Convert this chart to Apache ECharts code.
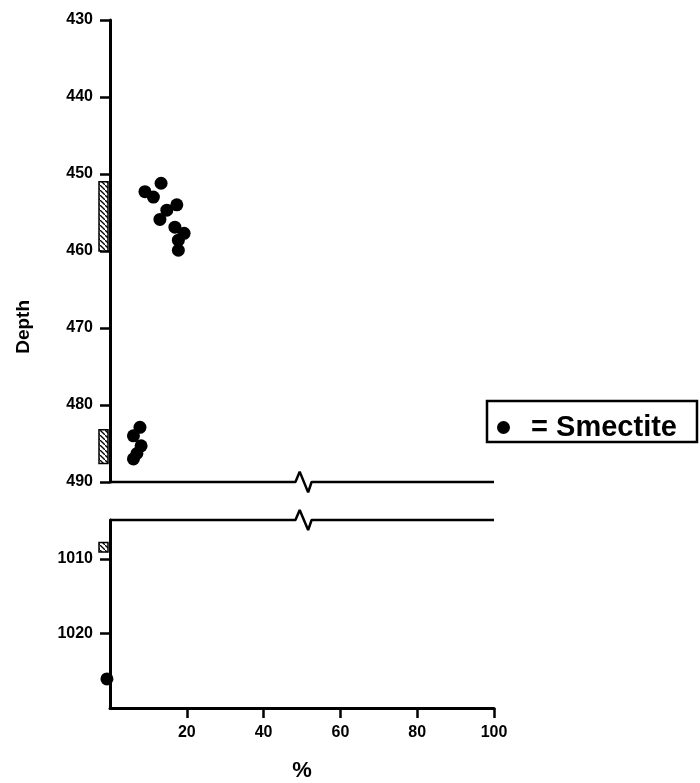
<!DOCTYPE html>
<html>
<head>
<meta charset="utf-8">
<script src="https://cdn.jsdelivr.net/npm/echarts@6/dist/echarts.min.js"></script>
<style>
  html, body { margin: 0; padding: 0; background: #fff; }
  #chart { width: 700px; height: 783px; }
</style>
</head>
<body>
<div id="chart"></div>
<script>
// data
var smectiteUpper = [13.3, 9.1, 11.3, 17.4, 14.8, 13.0, 16.9, 19.3, 17.8, 17.8, 7.8, 6.1, 8.1, 7.0, 6.1];
var depthUpper = [451.2, 452.3, 453.0, 454.0, 454.7, 455.9, 456.9, 457.7, 458.6, 459.9, 482.9, 484.0, 485.3, 486.3, 487.0];
var smectiteLower = [-0.8];
var depthLower = [1026.1];

// sampled intervals (hatched boxes next to the depth axis)
var intervalsUpper = [[451, 460], [483.2, 487.6]];
var intervalsLower = [[1007.8, 1009.1]];

var xTicks = [20, 40, 60, 80, 100];
var lowerDepthTicks = [1010, 1020];

// axis break: [x %, depth offset]
var breakZig = [[0, 0], [48.3, 0], [49.4, -1.35], [51.6, 1.35], [52.5, 0], [100, 0]];

function pairs(xs, ys) {
    return xs.map(function (x, i) { return [x, ys[i]]; });
}
function breakLine(base) {
    return breakZig.map(function (p) { return [p[0], base + p[1]]; });
}

// hatch pattern
var hatch = document.createElement('canvas');
hatch.width = 5;
hatch.height = 5;
var hctx = hatch.getContext('2d');
hctx.fillStyle = '#fff';
hctx.fillRect(0, 0, 5, 5);
hctx.strokeStyle = '#000';
hctx.lineWidth = 1.3;
hctx.beginPath();
hctx.moveTo(0, 0); hctx.lineTo(5, 5);
hctx.stroke();

function renderInterval(params, api) {
    var a = api.coord([0, api.value(0)]);
    var b = api.coord([0, api.value(1)]);
    return {
        type: 'rect',
        shape: { x: a[0] - 11, y: a[1], width: 9, height: b[1] - a[1] },
        style: { fill: { image: hatch, repeat: 'repeat' }, stroke: '#000', lineWidth: 1.5 }
    };
}

var upperMin = 430, upperMax = 490;
var lowerMin = 1004.8, lowerMax = 1030;

var labelFont = {
    color: '#000', fontFamily: 'Liberation Sans', fontWeight: 'bold', fontSize: 16,
    formatter: function (v) { return String(v); }
};
var axisLine = { show: true, lineStyle: { color: '#000', width: 3 } };

var chart = echarts.init(document.getElementById('chart'));
var option = {
    animation: false,
    backgroundColor: '#fff',
    grid: [
        { left: 110, top: 20, width: 384, height: 462 },
        { left: 110, top: 520, width: 384, height: 192 }
    ],
    xAxis: [
        {
            gridIndex: 0, type: 'value', min: 0, max: 100,
            axisLine: { show: false }, axisTick: { show: false },
            axisLabel: { show: false }, splitLine: { show: false }
        },
        {
            gridIndex: 1, type: 'value', min: 0, max: 100,
            name: '%', nameLocation: 'middle', nameGap: 52,
            nameTextStyle: { color: '#000', fontFamily: 'Liberation Sans', fontWeight: 'bold', fontSize: 22 },
            axisLine: axisLine,
            axisTick: { show: true, customValues: xTicks, length: 10, lineStyle: { color: '#000', width: 2.5 } },
            axisLabel: Object.assign({ customValues: xTicks, margin: 17 }, labelFont),
            splitLine: { show: false }
        }
    ],
    yAxis: [
        {
            gridIndex: 0, type: 'value', inverse: true, min: upperMin, max: upperMax, interval: 10,
            axisLine: axisLine,
            axisTick: { show: true, length: 10, lineStyle: { color: '#000', width: 2.5 } },
            axisLabel: Object.assign({ margin: 17 }, labelFont),
            splitLine: { show: false }
        },
        {
            gridIndex: 1, type: 'value', inverse: true, min: lowerMin, max: lowerMax,
            axisLine: axisLine,
            axisTick: { show: true, customValues: lowerDepthTicks, length: 10, lineStyle: { color: '#000', width: 2.5 } },
            axisLabel: Object.assign({ customValues: lowerDepthTicks, margin: 17 }, labelFont),
            splitLine: { show: false }
        }
    ],
    legend: {
        data: [{ name: 'Smectite', icon: 'circle' }],
        left: 487, top: 401,
        padding: [12, 20, 0, 10],
        itemWidth: 13, itemHeight: 13,
        formatter: '  = {name}',
        borderColor: '#000', borderWidth: 2.5,
        textStyle: { color: '#000', fontFamily: 'Liberation Sans', fontWeight: 'bold', fontSize: 29 }
    },
    graphic: [{
        type: 'text', left: 14, top: 300, rotation: Math.PI / 2,
        style: { text: 'Depth', fill: '#000', font: 'bold 19px "Liberation Sans"' }
    }],
    series: [
        {
            name: 'Smectite', type: 'scatter', xAxisIndex: 0, yAxisIndex: 0,
            symbolSize: 13, itemStyle: { color: '#000', opacity: 1 },
            data: pairs(smectiteUpper, depthUpper)
        },
        {
            name: 'Smectite', type: 'scatter', xAxisIndex: 1, yAxisIndex: 1,
            symbolSize: 13, clip: false, itemStyle: { color: '#000', opacity: 1 },
            data: pairs(smectiteLower, depthLower)
        },
        {
            type: 'custom', xAxisIndex: 0, yAxisIndex: 0, silent: true,
            renderItem: renderInterval, data: intervalsUpper
        },
        {
            type: 'custom', xAxisIndex: 1, yAxisIndex: 1, silent: true,
            renderItem: renderInterval, data: intervalsLower
        },
        {
            type: 'line', xAxisIndex: 0, yAxisIndex: 0, silent: true, clip: false,
            symbol: 'none', lineStyle: { color: '#000', width: 2.5 },
            data: breakLine(upperMax)
        },
        {
            type: 'line', xAxisIndex: 1, yAxisIndex: 1, silent: true, clip: false,
            symbol: 'none', lineStyle: { color: '#000', width: 2.5 },
            data: breakLine(lowerMin)
        }
    ]
};
chart.setOption(option);
</script>
</body>
</html>
